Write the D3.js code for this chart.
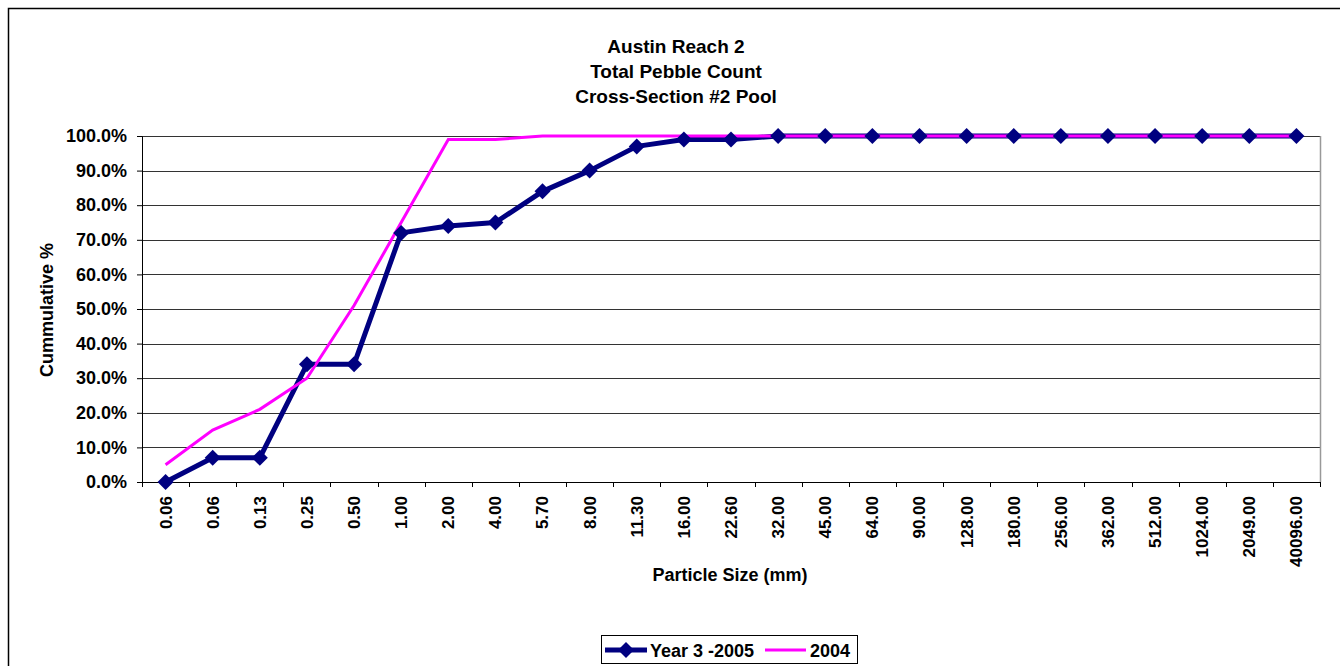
<!DOCTYPE html>
<html>
<head>
<meta charset="utf-8">
<script src="https://cdn.jsdelivr.net/npm/d3@7"></script>
<style>
  body { margin: 0; background: #fff; }
  svg { font-family: "Liberation Sans", Arial, sans-serif; font-weight: bold; }
</style>
</head>
<body>
<div id="chart"></div>
<script>
// particle size classes (two "0.06" bins in the source sheet)
var sizeLabels = ["0.06", "0.06", "0.13", "0.25", "0.50", "1.00", "2.00", "4.00", "5.70", "8.00",
    "11.30", "16.00", "22.60", "32.00", "45.00", "64.00", "90.00", "128.00", "180.00", "256.00",
    "362.00", "512.00", "1024.00", "2049.00", "40096.00"];

// cumulative percent
var year3_2005 = [0, 7, 7, 34, 34, 72, 74, 75, 84, 90, 97, 99, 99, 100, 100, 100, 100, 100, 100, 100,
    100, 100, 100, 100, 100];
var year2004 = [5, 15, 21, 30, 51, 75, 99, 99, 100, 100, 100, 100, 100, 100, 100, 100, 100, 100, 100, 100,
    100, 100, 100, 100, 100];

var yTicks = [0, 10, 20, 30, 40, 50, 60, 70, 80, 90, 100];

var W = 1340, H = 666;
var margin = { top: 136, left: 142, right: 20, bottom: 184 };
var width = W - margin.left - margin.right,
    height = H - margin.top - margin.bottom;

var svg = d3.select("#chart").append("svg")
    .attr("width", W)
    .attr("height", H);

// outer chart border (cut off at right and bottom)
svg.append("rect")
    .attr("x", 8.5).attr("y", 8.5)
    .attr("width", W + 20).attr("height", H + 20)
    .attr("fill", "none")
    .attr("stroke", "#000")
    .attr("stroke-width", 1.5);

// title
var title = ["Austin Reach 2", "Total Pebble Count", "Cross-Section #2 Pool"];
svg.append("g").selectAll("text")
    .data(title)
    .enter().append("text")
    .attr("x", 676)
    .attr("y", (d, i) => 53 + i * 25)
    .attr("text-anchor", "middle")
    .style("font-size", "19px")
    .text(d => d);

var g = svg.append("g")
    .attr("transform", "translate(" + margin.left + "," + margin.top + ")");

var x = d3.scaleBand()
    .domain(d3.range(sizeLabels.length))
    .range([0, width]);

var y = d3.scaleLinear()
    .domain([0, 100])
    .range([height, 0]);

// gridlines
g.append("g").selectAll("line")
    .data(yTicks)
    .enter().append("line")
    .attr("x1", 0).attr("x2", width)
    .attr("y1", d => Math.round(y(d)) + 0.5)
    .attr("y2", d => Math.round(y(d)) + 0.5)
    .attr("stroke", "#333")
    .attr("stroke-width", 1);

// plot area right edge
g.append("line")
    .attr("x1", width + 0.5).attr("x2", width + 0.5)
    .attr("y1", 0).attr("y2", height)
    .attr("stroke", "#999")
    .attr("stroke-width", 1.5);

// y axis
var yAxis = g.append("g")
    .call(d3.axisLeft(y).tickValues(yTicks).tickSize(5).tickPadding(10)
        .tickFormat(d => d3.format(".1f")(d) + "%"));
yAxis.selectAll("text").style("font-size", "18px").attr("fill", "#000");
yAxis.selectAll("line,path").attr("stroke", "#000");

// x axis, ticks at band boundaries
var xAxis = g.append("g")
    .attr("transform", "translate(0," + height + ")")
    .call(d3.axisBottom(x).tickSize(0).tickPadding(12).tickFormat(i => sizeLabels[i]));
xAxis.select("path").attr("stroke", "#000");
xAxis.selectAll("text")
    .style("font-size", "17px")
    .attr("fill", "#000")
    .attr("text-anchor", "end")
    .attr("transform", "rotate(-90)")
    .attr("x", -14)
    .attr("y", 0)
    .attr("dy", "0.35em");

g.append("g").selectAll("line")
    .data(d3.range(sizeLabels.length + 1))
    .enter().append("line")
    .attr("x1", i => Math.round(i * x.step()) + 0.5)
    .attr("x2", i => Math.round(i * x.step()) + 0.5)
    .attr("y1", height).attr("y2", height + 5)
    .attr("stroke", "#000");

// axis titles
svg.append("text")
    .attr("transform", "translate(53," + 310 + ") rotate(-90)")
    .attr("text-anchor", "middle")
    .style("font-size", "18px")
    .text("Cummulative %");

svg.append("text")
    .attr("x", 730)
    .attr("y", 581)
    .attr("text-anchor", "middle")
    .style("font-size", "18px")
    .text("Particle Size (mm)");

var line = d3.line()
    .x((d, i) => x(i) + x.bandwidth() / 2)
    .y(d => y(d));

// diamond marker = square rotated 45deg
var diamond = d3.symbol().type(d3.symbolSquare).size(128);
var markerTf = "rotate(45) scale(1,1)";

// Year 3 - 2005 line
g.append("path")
    .datum(year3_2005)
    .attr("fill", "none")
    .attr("stroke", "#000080")
    .attr("stroke-width", 5)
    .attr("stroke-linejoin", "round")
    .attr("d", line);

// 2004 line
g.append("path")
    .datum(year2004)
    .attr("fill", "none")
    .attr("stroke", "#ff00ff")
    .attr("stroke-width", 3)
    .attr("d", line);

// Year 3 - 2005 markers
g.append("g").selectAll("path")
    .data(year3_2005)
    .enter().append("path")
    .attr("d", diamond)
    .attr("transform", (d, i) => "translate(" + (x(i) + x.bandwidth() / 2) + "," + y(d) + ") " + markerTf)
    .attr("fill", "#000080");

// legend
var legend = svg.append("g").attr("transform", "translate(601,635)");
legend.append("rect")
    .attr("x", 0.5).attr("y", 0.5)
    .attr("width", 256).attr("height", 28)
    .attr("fill", "#fff")
    .attr("stroke", "#000");
legend.append("line")
    .attr("x1", 4).attr("x2", 46).attr("y1", 15).attr("y2", 15)
    .attr("stroke", "#000080").attr("stroke-width", 5);
legend.append("path")
    .attr("d", diamond)
    .attr("transform", "translate(25,15) " + markerTf)
    .attr("fill", "#000080");
legend.append("text")
    .attr("x", 49).attr("y", 21.5)
    .style("font-size", "18px")
    .text("Year 3 -2005");
legend.append("line")
    .attr("x1", 164).attr("x2", 205).attr("y1", 15).attr("y2", 15)
    .attr("stroke", "#ff00ff").attr("stroke-width", 3);
legend.append("text")
    .attr("x", 209).attr("y", 21.5)
    .style("font-size", "18px")
    .text("2004");
</script>
</body>
</html>
